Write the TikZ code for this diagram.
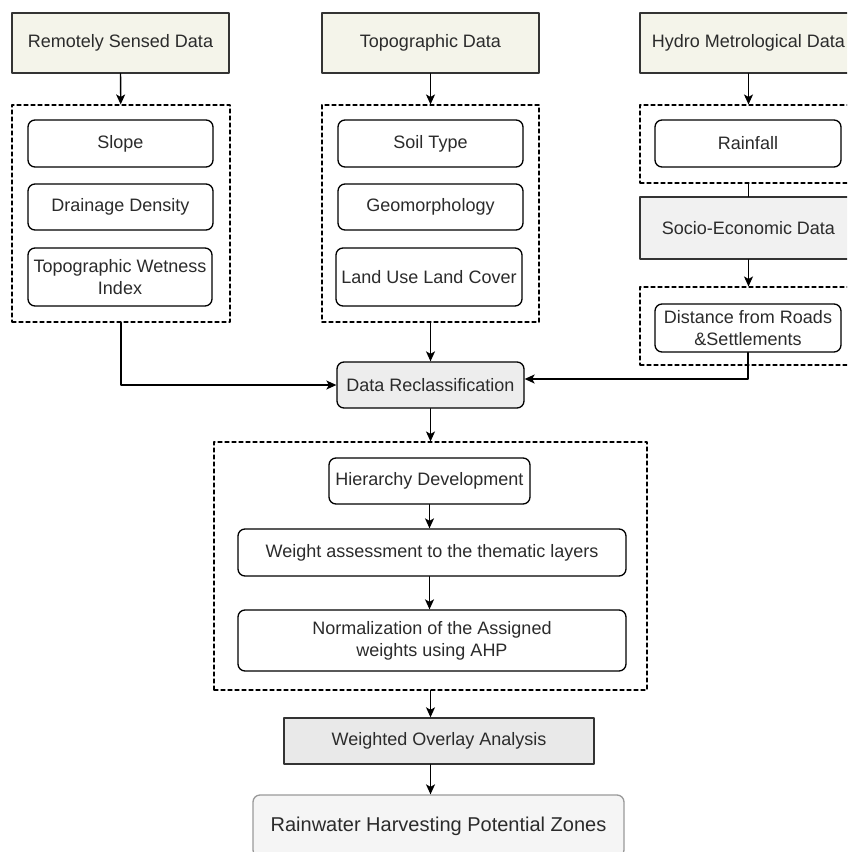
\documentclass[tikz,border=0pt]{standalone}
\usepackage{fontspec}
\setmainfont{Liberation Sans}
\usepackage{xcolor}
\usepackage{tikz}
\usetikzlibrary{calc}
\usetikzlibrary{arrows.meta}
\definecolor{sourcefill}{rgb}{0.957,0.957,0.918}
\definecolor{socialfill}{rgb}{0.945,0.945,0.945}
\definecolor{reclassfill}{rgb}{0.93,0.93,0.93}
\definecolor{overlayfill}{rgb}{0.915,0.915,0.915}
\definecolor{resultfill}{rgb}{0.962,0.962,0.962}
\definecolor{resultline}{rgb}{0.6,0.6,0.6}
\definecolor{edgegray}{rgb}{0.2,0.2,0.2}
\definecolor{textgray}{rgb}{0.17,0.17,0.17}
\tikzstyle{every node}=[font=\fontsize{18}{22}\selectfont, text=textgray, align=center, inner sep=0pt]
\tikzstyle{sourcebox}=[draw=edgegray, line width=1.4pt, fill=sourcefill, minimum width=217pt, minimum height=60pt]
\tikzstyle{factorbox}=[draw=black, line width=1.3pt, rounded corners=7pt, fill=white, minimum height=47pt]
\tikzstyle{groupbox}=[draw=black, line width=1.1pt, dash pattern=on 4pt off 3pt]
\tikzstyle{flow}=[->, line width=1.3pt, draw=black]

\begin{document}
\begin{tikzpicture}[line cap=round,line join=round,>={Stealth[length=10pt,width=9pt,inset=2.5pt]},x=1pt,y=-1pt]
            \useasboundingbox (0,0) rectangle (847,852);
            \clip (0,0) rectangle (847,852);
            % data sources
            \node[sourcebox] (rsd) at (120.5,43) {Remotely Sensed Data};
            \node[sourcebox] (topo) at (430.5,43) {Topographic Data};
            \node[sourcebox] (hydro) at (748.5,43) {Hydro Metrological Data};
            % thematic layer groups
            \node[groupbox, minimum width=218pt, minimum height=217pt] (g1) at (121,213.5) {};
            \node[groupbox, minimum width=217pt, minimum height=217pt] (g2) at (430.5,213.5) {};
            \node[groupbox, minimum width=217pt, minimum height=78pt] (g3) at (748.5,144) {};
            \node[factorbox, minimum width=185pt] (slope) at (120.5,143.5) {Slope};
            \node[factorbox, minimum width=185pt, minimum height=46pt] (drain) at (120.5,207) {Drainage Density};
            \node[factorbox, minimum width=184pt, minimum height=58pt] (twi) at (120,277) {Topographic Wetness\\Index};
            \node[factorbox, minimum width=185pt] (soil) at (430.5,143.5) {Soil Type};
            \node[factorbox, minimum width=185pt, minimum height=46pt] (geo) at (430.5,207) {Geomorphology};
            \node[factorbox, minimum width=186pt, minimum height=58pt] (lulc) at (429,277) {Land Use Land Cover};
            \node[factorbox, minimum width=186pt] (rain) at (748,143.5) {Rainfall};
            \node[sourcebox, fill=socialfill, minimum height=62pt] (socio) at (748.5,228) {Socio-Economic Data};
            \node[groupbox, minimum width=217pt, minimum height=78pt] (g4) at (748.5,326) {};
            \node[factorbox, minimum width=186pt, minimum height=48pt] (dist) at (748,328) {Distance from Roads\\\&Settlements};
            % reclassification and AHP
            \node[factorbox, fill=reclassfill, minimum width=187pt, minimum height=46pt] (dr) at (430.5,385) {Data Reclassification};
            \node[groupbox, minimum width=433pt, minimum height=248pt] (g5) at (430.5,566) {};
            \node[factorbox, minimum width=201pt, minimum height=46pt] (hier) at (429.5,481) {Hierarchy Development};
            \node[factorbox, minimum width=388pt] (wa) at (432,552.5) {Weight assessment to the thematic layers};
            \node[factorbox, minimum width=388pt, minimum height=61pt] (norm) at (432,640.5) {Normalization of the Assigned\\weights using AHP};
            \node[sourcebox, fill=overlayfill, minimum width=310pt, minimum height=46pt] (woa) at (439,741) {Weighted Overlay Analysis};
            \node[factorbox, draw=resultline, fill=resultfill, minimum width=371pt, minimum height=62pt, font=\fontsize{20}{24}\selectfont] (rhpz) at (438.5,826) {Rainwater Harvesting Potential Zones};
            % connectors
            \draw [flow] (rsd) -- (g1);
            \draw [flow] (topo) -- (g2);
            \draw [flow] (hydro) -- (g3);
            \draw [line width=1.3pt] (g3.south) -- (socio.north);
            \draw [flow] (socio) -- (g4);
            \draw [flow] (g1.south) |- (dr.west);
            \draw [flow] (g2.south) -- (dr.north);
            \draw [flow] (dist.south) |- ([yshift=6pt]dr.east);
            \draw [flow] (dr.south) -- (g5.north);
            \draw [flow] (hier.south) -- (hier.south |- wa.north);
            \draw [flow] (hier.south |- wa.south) -- (hier.south |- norm.north);
            \draw [flow] (g5.south) -- (g5.south |- woa.north);
            \draw [flow] (g5.south |- woa.south) -- (g5.south |- rhpz.north);
\end{tikzpicture}
\end{document}
